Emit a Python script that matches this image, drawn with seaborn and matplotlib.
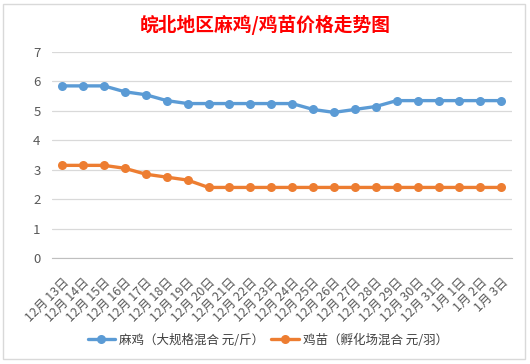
import pandas as pd
import matplotlib.pyplot as plt
import seaborn as sns
from matplotlib.patches import Rectangle
from matplotlib.ticker import MultipleLocator

# Data
dates = ['12月 13日', '12月 14日', '12月 15日', '12月 16日', '12月 17日', '12月 18日',
         '12月 19日', '12月 20日', '12月 21日', '12月 22日', '12月 23日', '12月 24日',
         '12月 25日', '12月 26日', '12月 27日', '12月 28日', '12月 29日', '12月 30日',
         '12月 31日', '1月 1日', '1月 2日', '1月 3日']
maji = [5.85, 5.85, 5.85, 5.65, 5.55, 5.35, 5.25, 5.25, 5.25, 5.25, 5.25, 5.25,
        5.05, 4.95, 5.05, 5.15, 5.35, 5.35, 5.35, 5.35, 5.35, 5.35]
jimiao = [3.15, 3.15, 3.15, 3.05, 2.85, 2.75, 2.65, 2.4, 2.4, 2.4, 2.4, 2.4,
          2.4, 2.4, 2.4, 2.4, 2.4, 2.4, 2.4, 2.4, 2.4, 2.4]
series_names = ['麻鸡（大规格混合 元/斤）', '鸡苗（孵化场混合 元/羽）']
colors = ['#5B9BD5', '#ED7D31']

df = pd.DataFrame({
    'pos': list(range(len(dates))) * 2,
    'price': maji + jimiao,
    'series': [series_names[0]] * len(dates) + [series_names[1]] * len(dates),
})

sns.set_style('white')
plt.rcParams['font.family'] = ['Noto Sans CJK SC', 'DejaVu Sans']

fig = plt.figure(figsize=(5.3, 3.64), dpi=100)
ax = fig.add_axes([0.0975, 0.291, 0.868, 0.566])

sns.lineplot(data=df, x='pos', y='price', hue='series', palette=colors,
             marker='o', markersize=6.5, markeredgewidth=0, linewidth=2.4, ax=ax)

ax.set_xlim(-0.5, len(dates) - 0.5)
ax.set_ylim(0, 7)
ax.yaxis.set_major_locator(MultipleLocator(1))
ax.grid(axis='y', color='#D9D9D9', linewidth=0.9)
ax.set_axisbelow(True)
for s in ['top', 'right', 'left']:
    ax.spines[s].set_visible(False)
ax.spines['bottom'].set_color('#BFBFBF')

ax.set_xticks(range(len(dates)))
ax.set_xticklabels(dates, rotation=45, ha='right', va='top', rotation_mode='anchor',
                   fontsize=9, color='#595959')
ax.tick_params(axis='x', length=0, pad=13)
ax.set_xticks([i + 0.5 for i in range(-1, len(dates))], minor=True)
ax.tick_params(axis='x', which='minor', length=4, color='#BFBFBF', direction='out')
ax.tick_params(axis='y', length=0, labelsize=9.5, labelcolor='#595959', pad=8)
ax.set_xlabel('')
ax.set_ylabel('')

ax.legend(loc='center', bbox_to_anchor=(0.505, 0.066), bbox_transform=fig.transFigure,
          ncol=2, frameon=False, fontsize=9, handlelength=2.2, handletextpad=0.3,
          columnspacing=0.6, labelcolor='#404040')

fig.text(0.5, 0.932, '皖北地区麻鸡/鸡苗价格走势图', ha='center', va='center',
         fontsize=13.5, fontweight='bold', color='#FF0000')

fig.patches.append(Rectangle((0.006, 0.014), 0.985, 0.976, transform=fig.transFigure,
                             fill=False, edgecolor='#D9D9D9', linewidth=1))

fig.savefig('out.png', dpi=100)
